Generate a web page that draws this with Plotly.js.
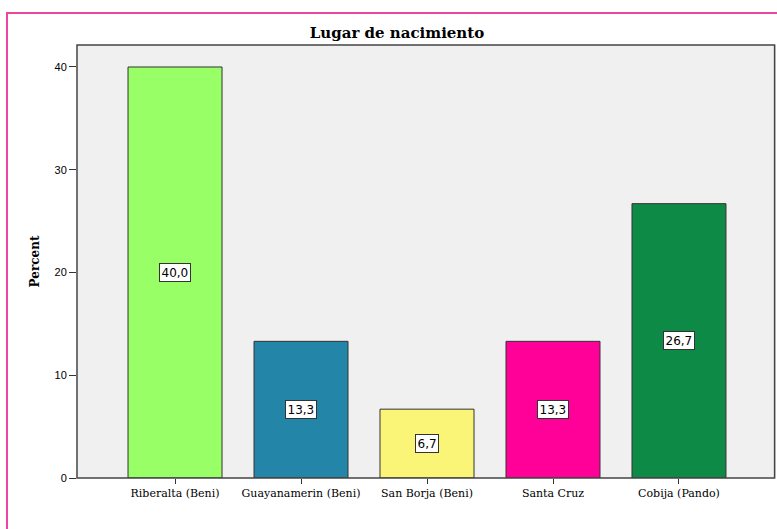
<!DOCTYPE html>
<html>
<head>
<meta charset="utf-8">
<script src="https://cdn.plot.ly/plotly-3.0.1.min.js"></script>
<style>html,body{margin:0;padding:0;background:#fff;}#chart{width:777px;height:529px;}</style>
</head>
<body>
<div id="chart"></div>
<script>
var categories = ["Riberalta (Beni)", "Guayanamerin (Beni)", "San Borja (Beni)", "Santa Cruz", "Cobija (Pando)"];
var percents = [40.0, 13.3, 6.7, 13.3, 26.7];
var labels = ["40,0", "13,3", "6,7", "13,3", "26,7"];
var barColors = ["#99FF66", "#2386A9", "#FAF577", "#FF0099", "#0E8A47"];
var yTicks = [0, 10, 20, 30, 40];

var trace = {
  type: "bar",
  x: categories,
  y: percents,
  width: 0.746,
  marker: {color: barColors, line: {color: "#333333", width: 1}},
  hoverinfo: "none"
};

var annotations = categories.map(function(c, i) {
  return {
    x: c, y: percents[i] / 2, xref: "x", yref: "y",
    text: labels[i], showarrow: false,
    font: {family: "DejaVu Sans, Arial, sans-serif", size: 12, color: "#000"},
    bgcolor: "#FFFFFF", bordercolor: "#333333", borderwidth: 1, borderpad: 1.5
  };
});

var layout = {
  width: 777, height: 529,
  margin: {l: 77, r: 1, t: 45, b: 51},
  paper_bgcolor: "#FFFFFF",
  plot_bgcolor: "#F0F0F0",
  showlegend: false,
  title: {
    text: "<b>Lugar de nacimiento</b>",
    font: {family: "DejaVu Serif, Liberation Serif, serif", size: 15, color: "#000"},
    x: 397 / 777, xanchor: "center", xref: "container",
    y: 1 - 33 / 529, yanchor: "middle", yref: "container"
  },
  xaxis: {
    type: "category",
    range: [-0.778, 4.77],
    showgrid: false, zeroline: false,
    showline: false,
    ticks: "outside", ticklen: 5, tickwidth: 1, tickcolor: "#333333",
    tickfont: {family: "DejaVu Serif, Liberation Serif, serif", size: 11, color: "#000"}
  },
  yaxis: {
    range: [0, 42.14],
    tickvals: yTicks,
    showgrid: false, zeroline: false,
    showline: false,
    ticks: "outside", ticklen: 7, tickwidth: 1, tickcolor: "#333333",
    tickfont: {family: "Liberation Sans, Arial, sans-serif", size: 11, color: "#000"},
    title: {text: "<b>Percent</b>", standoff: 12,
      font: {family: "DejaVu Serif, Liberation Serif, serif", size: 12, color: "#000"}}
  },
  annotations: annotations,
  shapes: [{
    type: "rect", xref: "paper", yref: "paper",
    x0: -70 / 699, x1: 1.05, y0: -0.2, y1: 1 + 32 / 433,
    line: {color: "#F0449E", width: 2}, fillcolor: "rgba(0,0,0,0)", layer: "below"
  }, {
    type: "rect", xref: "paper", yref: "paper",
    x0: 0, x1: 0.998, y0: 0, y1: 1,
    line: {color: "#444444", width: 1.5}, fillcolor: "rgba(0,0,0,0)", layer: "above"
  }]
};

Plotly.newPlot("chart", [trace], layout, {staticPlot: true, displayModeBar: false});
</script>
</body>
</html>
